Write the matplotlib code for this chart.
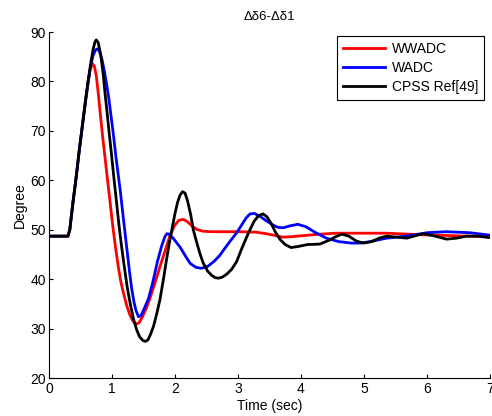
import matplotlib
matplotlib.use("Agg")
import matplotlib.pyplot as plt

plt.rcParams['font.family'] = ['Liberation Sans', 'DejaVu Sans']

# WWADC (red)
t_wwadc = [0, 0.30, 0.33, 0.38, 0.43, 0.48, 0.53, 0.58, 0.62, 0.65, 0.69, 0.72, 0.75, 0.78,
           0.81, 0.85, 0.89, 0.93, 0.97, 1.01, 1.05, 1.10, 1.14, 1.18, 1.23, 1.28, 1.33, 1.38,
           1.43, 1.48, 1.55, 1.62, 1.70, 1.78, 1.85, 1.92, 1.99, 2.06, 2.13, 2.19, 2.26, 2.34,
           2.44, 2.58, 2.80, 3.05, 3.29, 3.45, 3.60, 3.71, 3.85, 4.03, 4.30, 4.56, 5.00, 5.36,
           5.88, 6.41, 7.00]
y_wwadc = [48.7, 48.7, 50.0, 55.5, 60.5, 66.0, 71.0, 76.0, 79.8, 82.3, 83.6, 83.1, 81.2, 77.8,
           74.0, 69.0, 64.5, 60.0, 55.5, 51.0, 47.0, 42.5, 39.5, 37.3, 34.8, 32.9, 31.6, 30.9,
           31.2, 32.3, 34.3, 36.8, 40.0, 43.3, 46.0, 48.8, 50.8, 51.9, 52.1, 51.7, 50.9, 50.1,
           49.7, 49.6, 49.6, 49.6, 49.5, 49.2, 48.8, 48.5, 48.6, 48.8, 49.1, 49.3, 49.3, 49.3,
           49.0, 48.8, 48.6]

# WADC (blue)
t_wadc = [0, 0.30, 0.33, 0.38, 0.43, 0.48, 0.53, 0.58, 0.62, 0.66, 0.70, 0.74, 0.77, 0.80,
          0.84, 0.88, 0.92, 0.95, 0.99, 1.02, 1.06, 1.10, 1.13, 1.17, 1.21, 1.25, 1.28, 1.31,
          1.35, 1.38, 1.42, 1.46, 1.51, 1.58, 1.65, 1.72, 1.79, 1.84, 1.87, 1.91, 1.97, 2.03,
          2.08, 2.16, 2.24, 2.33, 2.42, 2.52, 2.62, 2.71, 2.80, 2.90, 2.98, 3.06, 3.13, 3.19,
          3.26, 3.35, 3.45, 3.55, 3.63, 3.72, 3.83, 3.95, 4.08, 4.22, 4.40, 4.60, 4.80, 4.94,
          5.10, 5.36, 5.67, 6.00, 6.31, 6.68, 7.00]
y_wadc = [48.7, 48.7, 50.0, 55.5, 60.5, 66.0, 71.0, 76.0, 79.8, 83.0, 85.3, 86.4, 86.6, 86.1,
          84.5, 82.0, 79.0, 76.5, 72.5, 69.5, 65.0, 61.0, 58.0, 53.5, 49.0, 44.6, 41.3, 38.3,
          35.3, 33.7, 32.4, 32.6, 34.0, 36.1, 39.5, 43.5, 46.8, 48.6, 49.2, 49.1, 48.3, 47.3,
          46.5, 44.8, 43.2, 42.4, 42.2, 42.6, 43.6, 44.8, 46.4, 48.1, 49.4, 51.0, 52.4, 53.2,
          53.3, 52.7, 51.8, 51.0, 50.5, 50.4, 50.8, 51.1, 50.6, 49.5, 48.3, 47.6, 47.3, 47.3,
          47.6, 48.3, 48.7, 49.4, 49.6, 49.4, 48.9]

# CPSS Ref[49] (black)
t_cpss = [0, 0.30, 0.33, 0.38, 0.43, 0.48, 0.53, 0.58, 0.62, 0.66, 0.70, 0.73, 0.75, 0.78,
          0.82, 0.86, 0.89, 0.92, 0.95, 0.99, 1.03, 1.07, 1.11, 1.15, 1.19, 1.24, 1.29, 1.34,
          1.39, 1.44, 1.49, 1.53, 1.57, 1.61, 1.66, 1.71, 1.76, 1.81, 1.86, 1.91, 1.95, 2.00,
          2.04, 2.08, 2.12, 2.16, 2.20, 2.25, 2.29, 2.35, 2.40, 2.45, 2.52, 2.58, 2.64, 2.69,
          2.75, 2.82, 2.90, 2.98, 3.06, 3.13, 3.19, 3.26, 3.33, 3.40, 3.46, 3.53, 3.59, 3.67,
          3.75, 3.84, 3.95, 4.10, 4.30, 4.45, 4.55, 4.65, 4.76, 4.88, 4.99, 5.12, 5.24, 5.36,
          5.52, 5.68, 5.82, 5.94, 6.10, 6.31, 6.47, 6.63, 6.80, 7.00]
y_cpss = [48.7, 48.7, 50.0, 55.5, 60.5, 66.0, 71.2, 76.3, 80.0, 83.5, 86.5, 88.0, 88.4, 87.9,
          85.5, 81.5, 77.5, 74.0, 70.2, 65.5, 60.5, 55.8, 51.0, 46.8, 43.0, 38.5, 35.0, 32.0,
          29.8, 28.3, 27.6, 27.4, 27.7, 28.8, 30.5, 33.0, 35.8, 39.5, 43.5, 47.3, 50.0, 53.3,
          55.5, 57.0, 57.7, 57.4, 55.8, 53.0, 50.0, 47.2, 45.0, 43.2, 41.6, 40.8, 40.3, 40.2,
          40.4, 41.0, 42.0, 43.6, 46.2, 48.3, 50.0, 51.8, 52.9, 53.2, 52.6, 51.2, 49.6, 48.0,
          47.0, 46.4, 46.6, 47.0, 47.1, 47.9, 48.6, 49.1, 48.7, 47.7, 47.3, 47.6, 48.3, 48.7,
          48.5, 48.3, 48.8, 49.2, 48.8, 48.1, 48.3, 48.7, 48.7, 48.4]

fig = plt.figure(figsize=(4.92, 4.16), dpi=100)
ax = fig.add_axes([0.0996, 0.0913, 0.8963, 0.8317])

ax.plot(t_wwadc, y_wwadc, color='red', lw=2, label='WWADC')
ax.plot(t_wadc, y_wadc, color='blue', lw=2, label='WADC')
ax.plot(t_cpss, y_cpss, color='black', lw=2, label='CPSS Ref[49]')

ax.set_xlim(0, 7)
ax.set_ylim(20, 90)
ax.set_xticks(range(0, 8))
ax.set_yticks(range(20, 91, 10))
ax.spines['top'].set_visible(False)
ax.spines['right'].set_visible(False)
ax.tick_params(direction='in', length=3, width=0.8, labelsize=10)
ax.tick_params(axis='y', pad=2)
ax.tick_params(axis='x', pad=3)

ax.set_title('Δδ6-Δδ1', fontsize=9.5, pad=9)
ax.set_xlabel('Time (sec)', fontsize=10, labelpad=2)
ax.set_ylabel('Degree', fontsize=10, labelpad=3)

leg = ax.legend(loc='upper right', bbox_to_anchor=(0.987, 0.989), borderaxespad=0,
                fancybox=False, framealpha=1, edgecolor='black', fontsize=10,
                handlelength=3, handletextpad=0.5, labelspacing=0.35, borderpad=0.45)
leg.get_frame().set_linewidth(0.8)

fig.savefig('out.png', dpi=100)
